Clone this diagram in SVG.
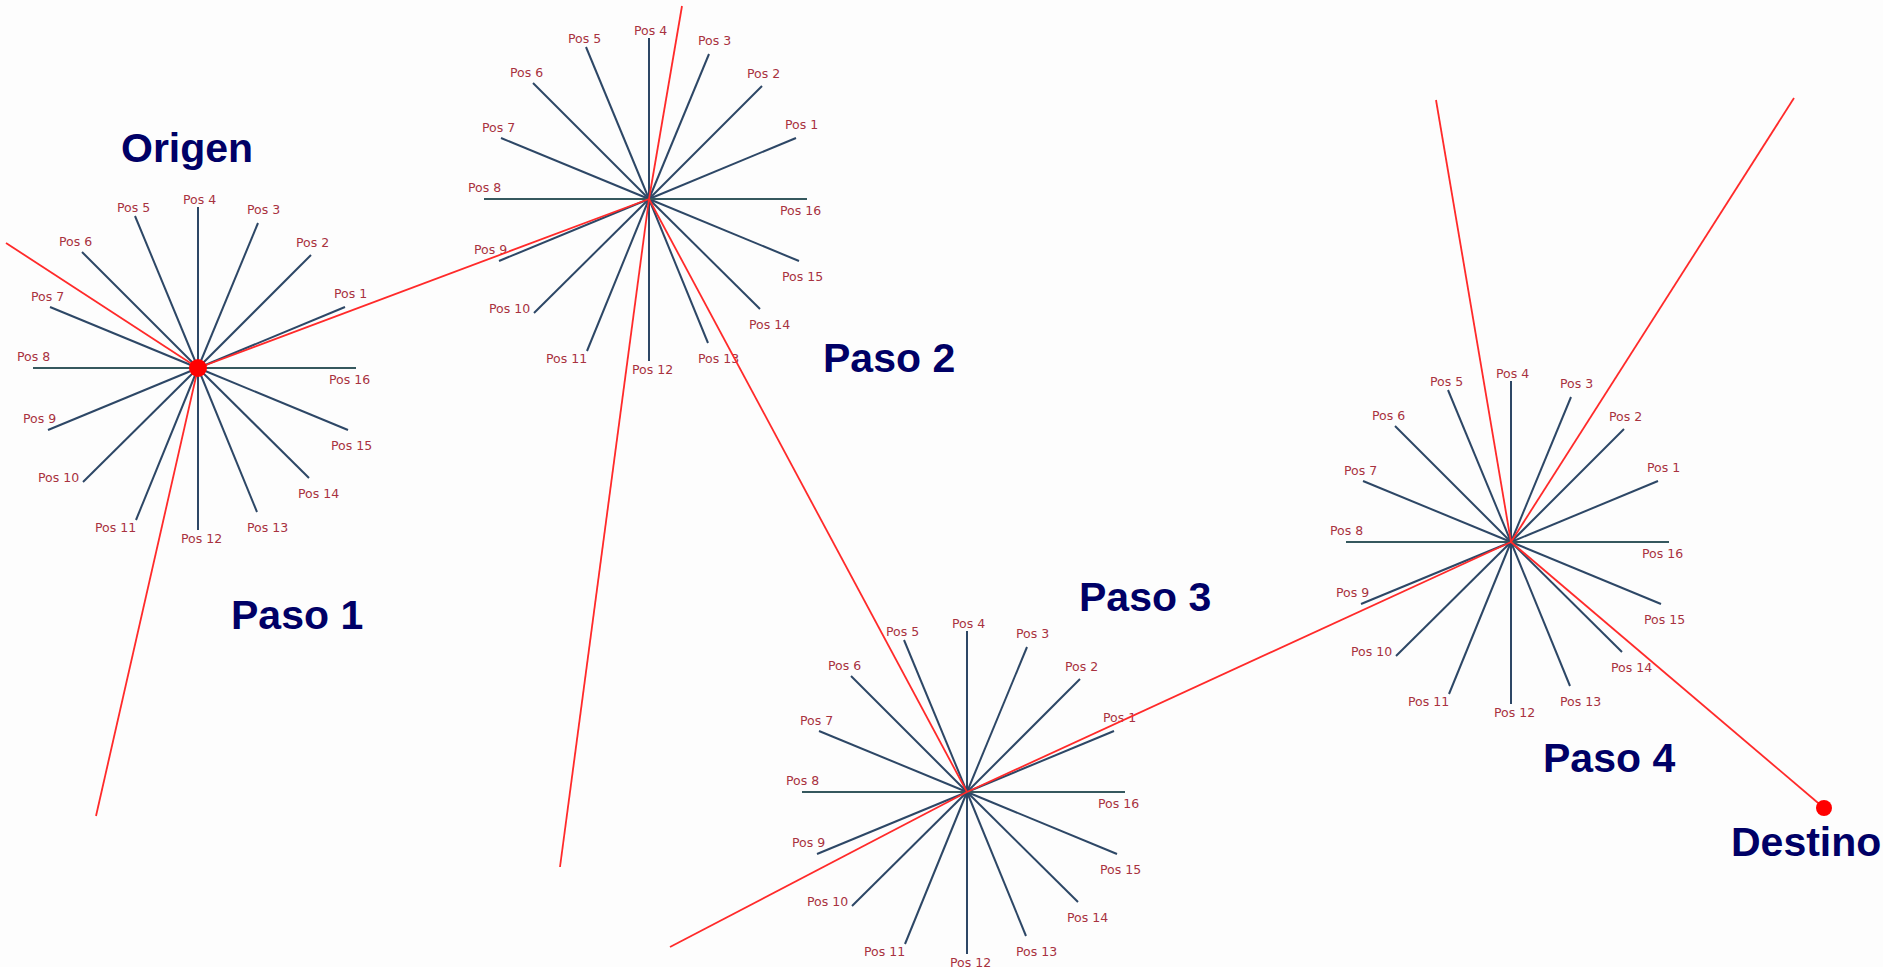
<svg xmlns="http://www.w3.org/2000/svg" width="1883" height="967" viewBox="0 0 1883 967">
<style>
.sp line{stroke:#2d4766;stroke-width:2}
.sp line.h{stroke:#35585e}
.lb{font-family:"DejaVu Sans","Liberation Sans",sans-serif;font-size:12.5px;fill:#a8323f}
.big{font-family:"Liberation Sans",Arial,sans-serif;font-weight:bold;font-size:41px;fill:#000066}
.path line{stroke:#ff2a2a;stroke-width:1.8}
.dot{fill:#ff0000}
</style>
<rect width="1883" height="967" fill="#fdfdfd"/>
<defs>
<g id="spokes" class="sp">
<line x1="0" y1="0" x2="147" y2="-61"/><line x1="0" y1="0" x2="113" y2="-113"/><line x1="0" y1="0" x2="60" y2="-145"/><line x1="0" y1="0" x2="0" y2="-161"/>
<line x1="0" y1="0" x2="-63" y2="-152"/><line x1="0" y1="0" x2="-116" y2="-116"/><line x1="0" y1="0" x2="-148" y2="-61"/><line class="h" x1="0" y1="0" x2="-165" y2="0"/>
<line x1="0" y1="0" x2="-150" y2="62"/><line x1="0" y1="0" x2="-115" y2="114"/><line x1="0" y1="0" x2="-62" y2="152"/><line x1="0" y1="0" x2="0" y2="162"/>
<line x1="0" y1="0" x2="59" y2="144"/><line x1="0" y1="0" x2="111" y2="110"/><line x1="0" y1="0" x2="150" y2="62"/><line class="h" x1="0" y1="0" x2="158" y2="0"/>
</g>
</defs>
<g id="paso1" transform="translate(198,368)">
<use href="#spokes"/>
<g class="lb"><text x="136" y="-70">Pos 1</text><text x="98" y="-121">Pos 2</text><text x="49" y="-154">Pos 3</text><text x="-15" y="-164">Pos 4</text><text x="-81" y="-156">Pos 5</text><text x="-139" y="-122">Pos 6</text><text x="-167" y="-67">Pos 7</text><text x="-181" y="-7">Pos 8</text><text x="-175" y="55">Pos 9</text><text x="-160" y="114">Pos 10</text><text x="-103" y="164">Pos 11</text><text x="-17" y="175">Pos 12</text><text x="49" y="164">Pos 13</text><text x="100" y="130">Pos 14</text><text x="133" y="82">Pos 15</text><text x="131" y="16">Pos 16</text></g>
</g>
<g id="paso2" transform="translate(649,199)">
<use href="#spokes"/>
<g class="lb"><text x="136" y="-70">Pos 1</text><text x="98" y="-121">Pos 2</text><text x="49" y="-154">Pos 3</text><text x="-15" y="-164">Pos 4</text><text x="-81" y="-156">Pos 5</text><text x="-139" y="-122">Pos 6</text><text x="-167" y="-67">Pos 7</text><text x="-181" y="-7">Pos 8</text><text x="-175" y="55">Pos 9</text><text x="-160" y="114">Pos 10</text><text x="-103" y="164">Pos 11</text><text x="-17" y="175">Pos 12</text><text x="49" y="164">Pos 13</text><text x="100" y="130">Pos 14</text><text x="133" y="82">Pos 15</text><text x="131" y="16">Pos 16</text></g>
</g>
<g id="paso3" transform="translate(967,792)">
<use href="#spokes"/>
<g class="lb"><text x="136" y="-70">Pos 1</text><text x="98" y="-121">Pos 2</text><text x="49" y="-154">Pos 3</text><text x="-15" y="-164">Pos 4</text><text x="-81" y="-156">Pos 5</text><text x="-139" y="-122">Pos 6</text><text x="-167" y="-67">Pos 7</text><text x="-181" y="-7">Pos 8</text><text x="-175" y="55">Pos 9</text><text x="-160" y="114">Pos 10</text><text x="-103" y="164">Pos 11</text><text x="-17" y="175">Pos 12</text><text x="49" y="164">Pos 13</text><text x="100" y="130">Pos 14</text><text x="133" y="82">Pos 15</text><text x="131" y="16">Pos 16</text></g>
</g>
<g id="paso4" transform="translate(1511,542)">
<use href="#spokes"/>
<g class="lb"><text x="136" y="-70">Pos 1</text><text x="98" y="-121">Pos 2</text><text x="49" y="-154">Pos 3</text><text x="-15" y="-164">Pos 4</text><text x="-81" y="-156">Pos 5</text><text x="-139" y="-122">Pos 6</text><text x="-167" y="-67">Pos 7</text><text x="-181" y="-7">Pos 8</text><text x="-175" y="55">Pos 9</text><text x="-160" y="114">Pos 10</text><text x="-103" y="164">Pos 11</text><text x="-17" y="175">Pos 12</text><text x="49" y="164">Pos 13</text><text x="100" y="130">Pos 14</text><text x="133" y="82">Pos 15</text><text x="131" y="16">Pos 16</text></g>
</g>
<g id="connectors" class="path">
<line x1="198" y1="368" x2="6" y2="243"/>
<line x1="198" y1="368" x2="96" y2="816"/>
<line x1="198" y1="368" x2="649" y2="199"/>
<line x1="649" y1="199" x2="682" y2="6"/>
<line x1="649" y1="199" x2="560" y2="867"/>
<line x1="649" y1="199" x2="967" y2="792"/>
<line x1="967" y1="792" x2="670" y2="947"/>
<line x1="967" y1="792" x2="1511" y2="542"/>
<line x1="1511" y1="542" x2="1436" y2="100"/>
<line x1="1511" y1="542" x2="1794" y2="98"/>
<line x1="1511" y1="542" x2="1824" y2="808"/>
</g>
<g id="origen">
<circle class="dot" cx="198" cy="368" r="9"/>
<text class="big" x="121" y="162">Origen</text>
</g>
<g id="destino">
<circle class="dot" cx="1824" cy="808" r="8"/>
<text class="big" x="1731" y="856">Destino</text>
</g>
<g id="labels">
<text class="big" x="231" y="629">Paso 1</text>
<text class="big" x="823" y="372">Paso 2</text>
<text class="big" x="1079" y="611">Paso 3</text>
<text class="big" x="1543" y="772">Paso 4</text>
</g>
</svg>
